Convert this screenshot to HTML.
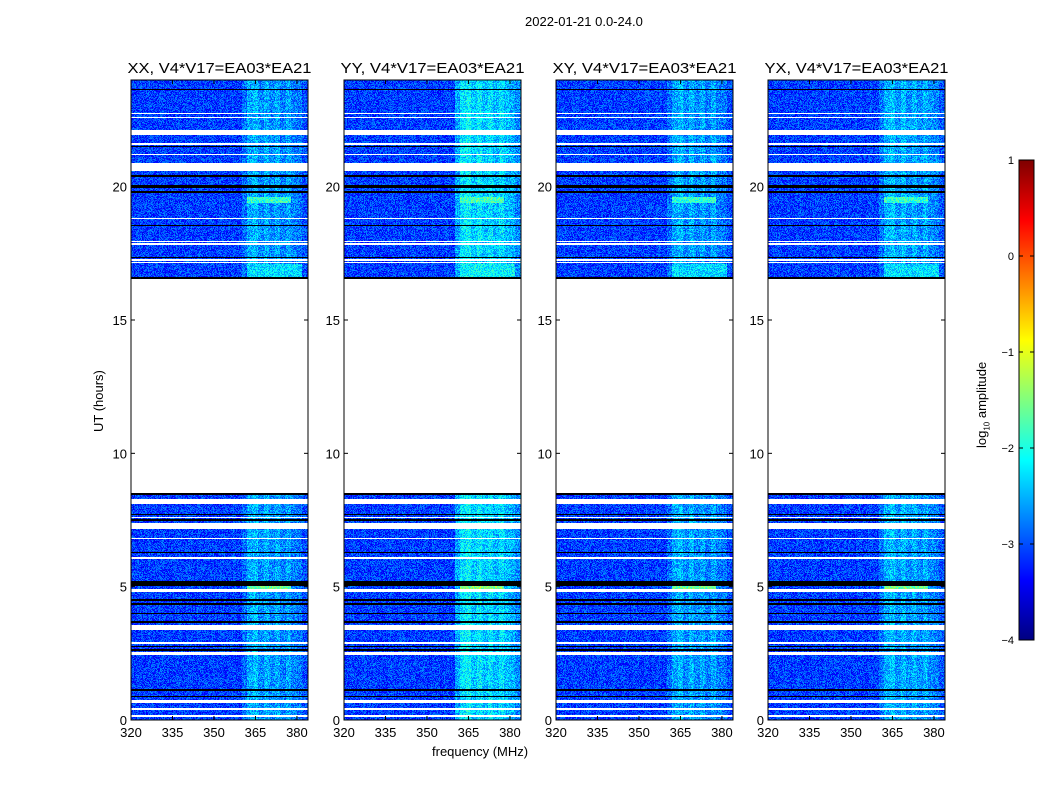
<!DOCTYPE html>
<html><head><meta charset="utf-8"><style>
body{margin:0;background:#fff;font-family:"Liberation Sans","DejaVu Sans",sans-serif;}
#root{position:relative;width:1050px;height:800px;overflow:hidden;background:#fff}
.t{position:absolute;font-size:13px;color:#000;white-space:nowrap}
canvas{position:absolute;image-rendering:pixelated}
</style></head><body>
<div id="root">
<div class="t" style="left:525px;top:14px">2022-01-21 0.0-24.0</div>
<div class="t" style="left:432px;top:744px">frequency (MHz)</div>
<div class="t" style="left:91px;top:432px;transform:rotate(-90deg);transform-origin:0 0">UT (hours)</div>
<div class="t" style="left:974px;top:448px;transform:rotate(-90deg);transform-origin:0 0">log<sub style="font-size:8px">10</sub> amplitude</div>
<svg id="svg" width="1050" height="800" style="position:absolute;left:0;top:0"></svg>
</div>
<script>
const panelTitles=["XX, V4*V17=EA03*EA21","YY, V4*V17=EA03*EA21","XY, V4*V17=EA03*EA21","YX, V4*V17=EA03*EA21"];
const panelLeft=[131,344,556,768];
const xTicks=[320,335,350,365,380];
const yTicks=[0,5,10,15,20];
const cbTicks=[1,0,-1,-2,-3,-4];
// frequency channel levels (2 MHz bins, 320..384)
const chanLevels=[-3.1,-3.05,-3.1,-3.05,-3.1,-3.05,-3.1,-3.1,-3.05,-3.1,-3.05,-3.1,-3.05,-3.1,-3.05,-3.1,-3.05,-3.1,-3.05,-3.1,-2.85,-2.55,-2.45,-2.7,-2.5,-2.7,-2.55,-2.75,-2.55,-2.75,-2.8,-3.0];
const panelBoost=[0,0.3,0,0.05];
// data coverage [start,end] in hours
const dataRanges=[[0,8.5],[16.55,24]];
// flagged (white) rows [start,end]
const whiteRows=[[0.12,0.2],[0.37,0.45],[0.65,0.75],[2.45,2.55],[2.85,2.92],[3.38,3.55],[4.8,4.9],[6.03,6.1],[6.78,6.83],[7.15,7.4],[7.57,7.62],[8.1,8.3],[17.12,17.18],[17.22,17.28],[17.82,17.88],[17.93,17.98],[18.78,18.84],[20.6,20.9],[21.18,21.24],[21.58,21.63],[21.95,22.12],[22.58,22.63],[22.73,22.78]];
// dropout (black) rows [start,end]
const blackRows=[[0.85,0.9],[1.1,1.15],[2.6,2.65],[2.73,2.78],[3.65,3.7],[3.98,4.03],[4.33,4.37],[4.48,4.52],[5.03,5.2],[6.25,6.3],[7.48,7.52],[7.68,7.72],[8.44,8.5],[16.55,16.6],[17.33,17.37],[18.53,18.58],[19.75,19.85],[19.95,20.05],[20.38,20.42],[21.48,21.52],[23.63,23.68]];
// bright RFI bursts [start,end,fStart,fEnd,level]
const bursts=[[4.9,5.02,362,378,-1.6],[19.38,19.6,362,378,-1.9],[16.6,17.1,362,382,-2.3]];

const svg=document.getElementById('svg'),root=document.getElementById('root');
const NS='http://www.w3.org/2000/svg';
const PT=80,PB=720,PW=177;
const yS=h=>PB-(h/24)*(PB-PT);
const xS=(f,L)=>L+(f-320)/64*PW;
function jet(x){x=Math.max(0,Math.min(1,x));const c=v=>Math.round(255*Math.max(0,Math.min(1,v)));
return [c(1.5-Math.abs(4*x-3)),c(1.5-Math.abs(4*x-2)),c(1.5-Math.abs(4*x-1))];}
function hash(a,b){let h=(a*374761393+b*668265263)^0x5bd1e995;h=(h^(h>>>13))*1274126177;return ((h^(h>>>16))>>>0)/4294967296;}
function inR(h,arr){for(const r of arr)if(h>=r[0]&&h<r[1])return r;return null;}
function mk(tag,at,txt){const e=document.createElementNS(NS,tag);for(const k in at)e.setAttribute(k,at[k]);if(txt!=null)e.textContent=txt;svg.appendChild(e);return e;}

panelLeft.forEach((L,p)=>{
 const cv=document.createElement('canvas');cv.width=PW;cv.height=PB-PT;
 cv.style.left=L+'px';cv.style.top=PT+'px';
 
 
 root.insertBefore(cv,svg);
 const ctx=cv.getContext('2d');const img=ctx.createImageData(PW,PB-PT);
 for(let y=0;y<PB-PT;y++){const h=24*(PB-PT-y-0.5)/(PB-PT);
  for(let x=0;x<PW;x++){const f=320+64*(x+0.5)/PW;const i=(y*PW+x)*4;let col;
   if(!inR(h,dataRanges)||inR(h,whiteRows))col=[255,255,255];
   else if(inR(h,blackRows))col=[0,0,0];
   else{const ci=Math.min(31,Math.floor((f-320)/2));let v=chanLevels[ci];
    if(f>=360)v+=panelBoost[p];
    for(const b of bursts)if(h>=b[0]&&h<b[1]&&f>=b[2]&&f<b[3])v=Math.max(v,b[4]+panelBoost[p]*0.5);
    v+=(hash(x+p*999,y)-0.5)*0.8;col=jet((v+4)/5);}
   img.data[i]=col[0];img.data[i+1]=col[1];img.data[i+2]=col[2];img.data[i+3]=255;}}
 ctx.putImageData(img,0,0);
 const fr=mk('rect',{x:L,y:PT,width:PW,height:PB-PT,fill:'none',stroke:'#000','stroke-width':1});
 
 const tt=mk('text',{x:L+PW/2,y:PT-7,'font-size':15,'text-anchor':'middle',textLength:184,lengthAdjust:'spacingAndGlyphs'},panelTitles[p]);
 
 xTicks.forEach(t=>{const x=xS(t,L);
  mk('line',{x1:x,x2:x,y1:PB,y2:PB-4,stroke:'#000'});mk('line',{x1:x,x2:x,y1:PT,y2:PT+4,stroke:'#000'});
  const lb=mk('text',{x:x,y:PB+17,'font-size':13,'text-anchor':'middle'},t);
  });
 yTicks.forEach(t=>{const y=yS(t);
  mk('line',{x1:L,x2:L+4,y1:y,y2:y,stroke:'#000'});mk('line',{x1:L+PW,x2:L+PW-4,y1:y,y2:y,stroke:'#000'});
  const lb=mk('text',{x:L-4,y:y+5,'font-size':13,'text-anchor':'end'},t);
  });
});
// colorbar
const CBX=1019,CBW=15,CBT=160,CBB=640;
const cbv=document.createElement('canvas');cbv.width=1;cbv.height=CBB-CBT;cbv.style.left=CBX+'px';cbv.style.top=CBT+'px';cbv.style.width=CBW+'px';cbv.style.height=(CBB-CBT)+'px';


root.insertBefore(cbv,svg);
{const c=cbv.getContext('2d');for(let y=0;y<CBB-CBT;y++){const col=jet(1-y/(CBB-CBT));c.fillStyle=`rgb(${col})`;c.fillRect(0,y,1,1);}}
mk('rect',{x:CBX,y:CBT,width:CBW,height:CBB-CBT,fill:'none',stroke:'#000'});
cbTicks.forEach(t=>{const y=CBT+(1-t)/5*(CBB-CBT);
 mk('line',{x1:CBX,x2:CBX+4,y1:y,y2:y,stroke:'#000'});mk('line',{x1:CBX+CBW,x2:CBX+CBW-4,y1:y,y2:y,stroke:'#000'});
 const lb=mk('text',{x:CBX-5,y:y+4,'font-size':11,'text-anchor':'end'},t<0?'\u2212'+(-t):t);
 });
</script>
</body></html>
